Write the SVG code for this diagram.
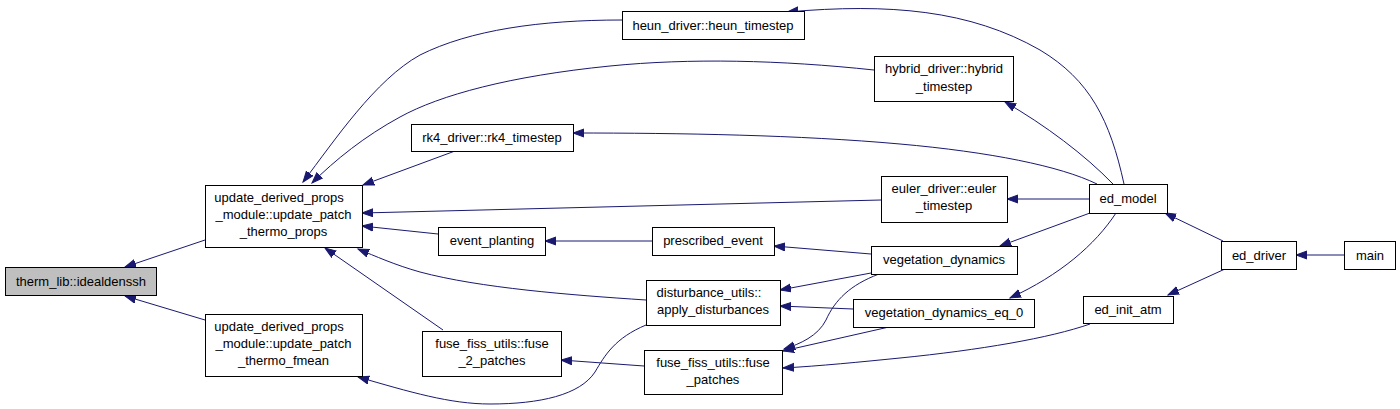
<svg xmlns="http://www.w3.org/2000/svg" width="1400" height="409" viewBox="0 0 1400 409">
<defs>
<style>
.n rect{fill:#ffffff;stroke:#000000;stroke-width:1}
.n.hl rect{fill:#bfbfbf}
.n text{font-family:"Liberation Sans",Arial,sans-serif;font-size:13px;fill:#000000;text-anchor:middle}
.e path{fill:none;stroke:#191970;stroke-width:1;marker-end:url(#ah)}
</style>
<marker id="ah" markerUnits="userSpaceOnUse" markerWidth="13" markerHeight="10" refX="11" refY="4.5" orient="auto" viewBox="0 0 13 10">
<path d="M0,0.5 L11,4.5 L0,8.5 z" fill="#191970" stroke="#191970" stroke-width="1"/>
</marker>
</defs>
<rect width="1400" height="409" fill="#ffffff"/>
<g id="edges" class="e">
<path d="M205,240 L125,267"/>
<path d="M205,320 L125,296"/>
<path d="M622,20 C540,20 470,30 420,55 C375,80 335,140 303,182"/>
<path d="M874,70 C780,60 690,58 610,66 C510,76 440,95 400,117 C365,136 335,160 312,183"/>
<path d="M455,151 L363,185"/>
<path d="M1124,184 C1110,120 1090,80 1040,50 C970,10 890,3 787,12"/>
<path d="M1113,184 C1085,155 1045,125 1005,102"/>
<path d="M1097,184 C1060,166 990,152 900,144 C800,135 680,133 573,133"/>
<path d="M1089,199 L1007,199"/>
<path d="M881,200 L362,213"/>
<path d="M1090,213 L1000,246"/>
<path d="M1116,213 C1095,245 1060,275 1010,298"/>
<path d="M1223,241 L1165,213"/>
<path d="M1225,269 L1168,295"/>
<path d="M1344,255 L1296,255"/>
<path d="M438,234 L362,226"/>
<path d="M652,241 L545,241"/>
<path d="M871,254 L774,246"/>
<path d="M871,273 L780,290"/>
<path d="M879,274 C850,285 835,300 826,320 C818,336 800,344 784,349"/>
<path d="M853,309 L780,306"/>
<path d="M889,327 L783,351"/>
<path d="M1090,324 C1050,338 980,350 900,358 C860,362 820,366 783,368"/>
<path d="M644,366 L561,360"/>
<path d="M443,330 L325,248"/>
<path d="M646,300 C570,295 480,288 420,272 C395,265 375,256 358,249"/>
<path d="M646,325 C615,338 605,355 595,372 C580,395 540,404 490,404 C450,404 410,392 358,377"/>
</g>
<g id="therm_lib_idealdenssh" class="n hl"><rect x="5.5" y="267.5" width="151" height="28"/><text x="81" y="285.5">therm_lib::idealdenssh</text></g>
<g id="update_patch_thermo_props" class="n"><rect x="205.5" y="185.5" width="157" height="62"/><text x="279" y="202">update_derived_props</text><text x="283.5" y="219">_module::update_patch</text><text x="283.5" y="236">_thermo_props</text></g>
<g id="update_patch_thermo_fmean" class="n"><rect x="205.5" y="314.5" width="157" height="62"/><text x="279" y="331">update_derived_props</text><text x="283.5" y="348">_module::update_patch</text><text x="283.5" y="365">_thermo_fmean</text></g>
<g id="heun_timestep" class="n"><rect x="622.5" y="11.5" width="182" height="28"/><text x="713" y="29.5">heun_driver::heun_timestep</text></g>
<g id="rk4_timestep" class="n"><rect x="411.5" y="124.5" width="162" height="27"/><text x="492" y="142">rk4_driver::rk4_timestep</text></g>
<g id="hybrid_timestep" class="n"><rect x="874.5" y="56.5" width="139" height="45"/><text x="944" y="73">hybrid_driver::hybrid</text><text x="944" y="90.5">_timestep</text></g>
<g id="euler_timestep" class="n"><rect x="881.5" y="176.5" width="126" height="46"/><text x="944" y="193">euler_driver::euler</text><text x="944" y="210">_timestep</text></g>
<g id="ed_model" class="n"><rect x="1089.5" y="184.5" width="78" height="29"/><text x="1128" y="203">ed_model</text></g>
<g id="event_planting" class="n"><rect x="438.5" y="227.5" width="107" height="28"/><text x="492" y="245">event_planting</text></g>
<g id="prescribed_event" class="n"><rect x="652.5" y="227.5" width="122" height="28"/><text x="713" y="245">prescribed_event</text></g>
<g id="apply_disturbances" class="n"><rect x="646.5" y="280.5" width="134" height="45"/><text x="709" y="296.5">disturbance_utils::</text><text x="713" y="314">apply_disturbances</text></g>
<g id="fuse_2_patches" class="n"><rect x="422.5" y="331.5" width="139" height="45"/><text x="492" y="348">fuse_fiss_utils::fuse</text><text x="492" y="365">_2_patches</text></g>
<g id="fuse_patches" class="n"><rect x="644.5" y="350.5" width="138" height="44"/><text x="713" y="367">fuse_fiss_utils::fuse</text><text x="713" y="384">_patches</text></g>
<g id="vegetation_dynamics" class="n"><rect x="871.5" y="246.5" width="146" height="28"/><text x="944" y="264">vegetation_dynamics</text></g>
<g id="vegetation_dynamics_eq_0" class="n"><rect x="853.5" y="299.5" width="181" height="28"/><text x="944" y="317">vegetation_dynamics_eq_0</text></g>
<g id="ed_init_atm" class="n"><rect x="1083.5" y="296.5" width="90" height="27"/><text x="1128" y="314">ed_init_atm</text></g>
<g id="ed_driver" class="n"><rect x="1221.5" y="241.5" width="75" height="28"/><text x="1259" y="259.5">ed_driver</text></g>
<g id="main" class="n"><rect x="1344.5" y="241.5" width="51" height="28"/><text x="1370" y="259.5">main</text></g>
</svg>
